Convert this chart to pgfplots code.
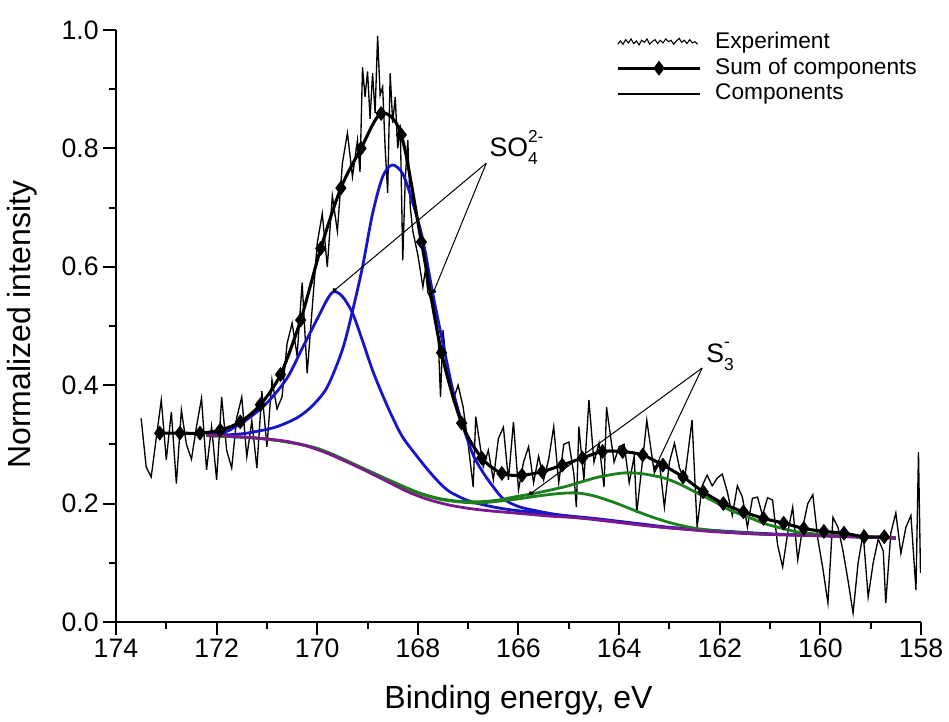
\documentclass[border=0pt]{standalone}
\usepackage{pgfplots}
\pgfplotsset{compat=1.18}
\usepackage{fontspec}
\setmainfont{Liberation Sans}
\usetikzlibrary{arrows.meta}
\definecolor{cblue}{RGB}{22,22,200}
\definecolor{cgreen}{RGB}{28,128,28}
\definecolor{cpurple}{RGB}{125,25,140}

\begin{document}
\begin{tikzpicture}
\useasboundingbox (-87pt,-74.25pt) rectangle (624.75pt,466.5pt);
\begin{axis}[
  at={(0,0)}, anchor=south west,
  scale only axis, width=603.75pt, height=444pt,
  xmin=158, xmax=174, ymin=0, ymax=1,
  x dir=reverse,
  axis lines=left,
  axis line style={-, line width=1.5pt},
  xtick={158,160,...,174},
  ytick={0,0.2,0.4,0.6,0.8,1.0},
  minor x tick num=1, minor y tick num=1,
  tick align=outside,
  major tick length=9.4pt, minor tick length=5.25pt,
  every tick/.style={black, line width=1.5pt},
  tick label style={font=\fontsize{20}{24}\selectfont},
  /pgf/number format/assume math mode=true,
  yticklabel style={/pgf/number format/.cd, fixed, fixed zerofill, precision=1},
  xticklabel style={/pgf/number format/.cd, fixed, precision=0, 1000 sep={}},
  xlabel={Binding energy, eV},
  ylabel={Normalized intensity},
  xlabel style={font=\fontsize{24}{28}\selectfont, at={(axis description cs:0.5,-0.132)}, anchor=center},
  ylabel style={font=\fontsize{24}{28}\selectfont, at={(axis description cs:-0.117,0.502)}, anchor=center},
  legend style={at={(axis description cs:0.621,1.0)}, anchor=north west, draw=none, fill=none,
    font=\fontsize{17}{19}\selectfont, row sep=0pt, inner sep=0pt,
    nodes={inner ysep=1pt, text height=13pt, text depth=4pt}},
  legend cell align=left,
  long legend/.style={legend image code/.code={\draw[mark repeat=2,mark phase=2,##1] plot coordinates {(0pt,0pt) (31pt,0pt) (62pt,0pt)}; \path (70pt,0pt);}},
]

% experiment
\addplot[black, line width=1pt,
  legend image code/.code={\draw[black, line width=0.8pt] plot coordinates {(0pt,-1pt) (2pt,1.5pt) (4pt,-1pt) (6pt,2.5pt) (8pt,0pt) (10pt,3pt) (12pt,-0.5pt) (14pt,1.5pt) (16pt,-1.5pt) (18pt,2pt) (20pt,0.5pt) (22pt,3pt) (24pt,-1pt) (26pt,1pt) (28pt,2.5pt) (30pt,-0.5pt) (32pt,2pt) (34pt,0pt) (36pt,3pt) (38pt,1pt) (40pt,2pt) (42pt,-1pt) (44pt,1.5pt) (46pt,3.5pt) (48pt,0.5pt) (50pt,2pt) (52pt,-0.5pt) (54pt,2.5pt) (56pt,0pt) (58pt,1pt) (60pt,-1pt)}; \path (70pt,0pt);}]
table {
173.5 0.344
173.4 0.262
173.3 0.245
173.2 0.310
173.1 0.375
173.0 0.274
172.9 0.355
172.8 0.234
172.7 0.358
172.6 0.300
172.5 0.275
172.4 0.330
172.3 0.378
172.2 0.257
172.1 0.330
172.0 0.240
171.9 0.380
171.8 0.290
171.7 0.260
171.6 0.345
171.5 0.380
171.4 0.279
171.3 0.340
171.2 0.260
171.1 0.390
171.0 0.296
170.9 0.409
170.8 0.360
170.7 0.380
170.6 0.470
170.5 0.505
170.4 0.450
170.3 0.573
170.2 0.420
170.1 0.530
170.0 0.640
169.9 0.690
169.8 0.600
169.7 0.720
169.6 0.660
169.5 0.775
169.4 0.826
169.3 0.752
169.2 0.814
169.15 0.760
169.1 0.937
169.05 0.887
169.0 0.930
168.95 0.850
168.9 0.927
168.85 0.860
168.8 0.990
168.75 0.890
168.7 0.904
168.65 0.800
168.6 0.725
168.55 0.927
168.5 0.843
168.45 0.887
168.4 0.800
168.35 0.840
168.3 0.611
168.25 0.750
168.2 0.814
168.15 0.700
168.1 0.660
168.0 0.620
167.9 0.566
167.85 0.595
167.8 0.556
167.7 0.539
167.6 0.488
167.55 0.380
167.5 0.493
167.4 0.410
167.3 0.375
167.2 0.400
167.1 0.363
167.0 0.300
166.9 0.228
166.85 0.347
166.7 0.262
166.6 0.290
166.5 0.240
166.4 0.310
166.3 0.329
166.2 0.240
166.1 0.338
166.0 0.223
165.9 0.270
165.8 0.296
165.7 0.235
165.6 0.280
165.5 0.240
165.4 0.275
165.3 0.330
165.2 0.235
165.1 0.300
165.0 0.304
164.9 0.250
164.85 0.194
164.8 0.330
164.7 0.240
164.6 0.375
164.5 0.270
164.4 0.302
164.3 0.228
164.25 0.363
164.1 0.270
164.0 0.296
163.9 0.300
163.8 0.235
163.7 0.280
163.65 0.184
163.5 0.300
163.45 0.341
163.3 0.252
163.2 0.270
163.1 0.194
163.0 0.270
162.9 0.302
162.8 0.260
162.7 0.240
162.55 0.341
162.45 0.160
162.35 0.230
162.25 0.248
162.15 0.230
162.05 0.243
161.95 0.250
161.85 0.220
161.75 0.180
161.65 0.230
161.55 0.211
161.45 0.160
161.35 0.209
161.25 0.211
161.15 0.180
161.05 0.210
160.95 0.206
160.85 0.130
160.75 0.093
160.65 0.150
160.55 0.194
160.45 0.105
160.35 0.160
160.25 0.200
160.15 0.215
160.05 0.140
159.95 0.090
159.85 0.032
159.75 0.177
159.65 0.160
159.55 0.120
159.45 0.070
159.35 0.015
159.25 0.100
159.15 0.150
159.05 0.042
158.95 0.100
158.85 0.140
158.75 0.120
158.7 0.032
158.6 0.150
158.5 0.184
158.4 0.116
158.3 0.160
158.2 0.180
158.1 0.054
158.05 0.287
158.01 0.083
};
\addlegendentry{Experiment}

% SO4 components
\addplot[cblue, line width=2.1pt, smooth, forget plot] table {
172.2 0.315
171.8 0.322
171.4 0.342
171.0 0.370
170.6 0.412
170.3 0.462
170.0 0.512
169.8 0.545
169.67 0.558
169.5 0.550
169.3 0.522
169.1 0.475
168.9 0.425
168.7 0.383
168.5 0.345
168.3 0.312
168.0 0.278
167.7 0.247
167.4 0.222
167.0 0.205
166.6 0.196
166.2 0.190
165.8 0.186
165.4 0.182
165.0 0.179
164.5 0.175
164.0 0.170
163.5 0.165
163.0 0.160
162.0 0.154
161.0 0.149
160.0 0.146
159.0 0.143
158.5 0.142
};
\addplot[cblue, line width=2.1pt, smooth, forget plot] table {
172.2 0.315
171.6 0.317
171.2 0.322
170.8 0.330
170.4 0.345
170.1 0.365
169.8 0.397
169.5 0.460
169.3 0.525
169.1 0.600
168.9 0.690
168.7 0.752
168.51 0.772
168.3 0.757
168.1 0.708
167.9 0.645
167.7 0.553
167.5 0.470
167.3 0.390
167.1 0.330
166.9 0.282
166.7 0.252
166.5 0.228
166.3 0.208
166.0 0.195
165.6 0.187
165.2 0.181
164.8 0.177
164.4 0.173
164.0 0.169
163.5 0.164
163.0 0.159
162.0 0.153
161.0 0.148
160.0 0.146
159.0 0.143
158.5 0.142
};

% S3- components
\addplot[cgreen, line width=2.1pt, smooth, forget plot] table {
172.2 0.315
171.0 0.309
170.0 0.293
169.0 0.256
168.5 0.236
168.0 0.218
167.6 0.208
167.2 0.203
166.8 0.201
166.4 0.204
166.0 0.208
165.6 0.213
165.2 0.217
164.84 0.218
164.5 0.213
164.1 0.202
163.8 0.192
163.4 0.179
163.0 0.168
162.6 0.160
162.2 0.155
161.8 0.152
161.4 0.150
161.0 0.148
160.0 0.146
159.0 0.143
158.5 0.142
};
\addplot[cgreen, line width=2.1pt, smooth, forget plot] table {
172.2 0.315
171.0 0.309
170.0 0.293
169.0 0.256
168.5 0.237
168.0 0.219
167.6 0.209
167.2 0.204
166.8 0.203
166.4 0.206
166.1 0.211
165.7 0.217
165.1 0.228
164.7 0.238
164.4 0.245
164.0 0.251
163.78 0.252
163.5 0.250
163.1 0.243
162.8 0.233
162.45 0.218
162.1 0.203
161.8 0.189
161.4 0.176
161.1 0.166
160.8 0.159
160.45 0.152
160.0 0.148
159.5 0.145
159.0 0.143
158.5 0.142
};

% background
\addplot[cpurple, line width=2.1pt, smooth, forget plot] table {
172.2 0.315
171.8 0.314
171.4 0.312
171.0 0.309
170.6 0.305
170.2 0.297
169.8 0.285
169.4 0.270
169.0 0.254
168.6 0.237
168.2 0.220
167.8 0.207
167.4 0.198
167.0 0.192
166.6 0.188
166.2 0.185
165.8 0.182
165.4 0.179
165.0 0.177
164.6 0.174
164.2 0.170
163.8 0.166
163.4 0.162
163.0 0.159
162.6 0.156
162.2 0.153
161.8 0.151
161.4 0.149
161.0 0.148
160.6 0.147
160.2 0.146
159.8 0.145
159.4 0.144
159.0 0.143
158.5 0.142
};

% sum of components
\addplot[black, line width=2.3pt, smooth, mark=diamond*, mark size=5.2pt,
  mark options={solid, fill=black, line width=0.5pt}, long legend] table {
173.13 0.319
172.73 0.319
172.33 0.319
171.93 0.324
171.53 0.338
171.13 0.367
170.73 0.418
170.33 0.510
169.93 0.631
169.53 0.733
169.13 0.800
168.73 0.859
168.33 0.823
167.93 0.642
167.53 0.455
167.13 0.336
166.73 0.277
166.33 0.251
165.93 0.248
165.53 0.254
165.13 0.265
164.73 0.277
164.33 0.288
163.93 0.288
163.53 0.282
163.13 0.265
162.73 0.245
162.33 0.220
161.93 0.200
161.53 0.186
161.13 0.175
160.73 0.167
160.33 0.158
159.93 0.153
159.53 0.150
159.13 0.144
158.73 0.144
};
\addlegendentry{Sum of components}
\addlegendimage{black, line width=1.5pt, long legend}
\addlegendentry{Components}

% annotations
\draw[line width=0.75pt, -{Circle[length=3.5pt]}] (axis cs:166.64,0.775) -- (axis cs:169.69,0.558);
\draw[line width=0.75pt, -{Circle[length=3.5pt]}] (axis cs:166.64,0.775) -- (axis cs:167.70,0.555);
\node[anchor=base west, inner sep=0pt, font=\fontsize{20}{24}\selectfont] at (axis cs:166.58,0.786)
  {SO\rlap{\raisebox{0.55em}{\fontsize{13}{13}\selectfont 2-}}\raisebox{-0.3em}{\fontsize{13}{13}\selectfont 4}};
\draw[line width=0.75pt, -{Circle[length=3.5pt]}] (axis cs:162.35,0.429) -- (axis cs:165.79,0.215);
\draw[line width=0.75pt, -{Circle[length=3.5pt]}] (axis cs:162.35,0.429) -- (axis cs:163.30,0.258);
\node[anchor=base west, inner sep=0pt, font=\fontsize{20}{24}\selectfont] at (axis cs:162.27,0.439)
  {S\rlap{\raisebox{0.55em}{\fontsize{13}{13}\selectfont -}}\raisebox{-0.3em}{\fontsize{13}{13}\selectfont 3}};
\end{axis}
\end{tikzpicture}
\end{document}
